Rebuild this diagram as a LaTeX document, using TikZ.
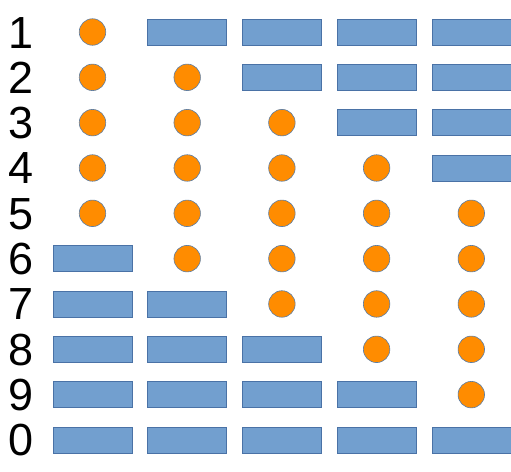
\documentclass[tikz,border=0pt]{standalone}
\usepackage{fontspec}
\setmainfont{Liberation Sans}
\definecolor{barblue}{HTML}{729FCF}
\definecolor{barline}{HTML}{4A72A6}
\definecolor{dotorange}{HTML}{FF8C00}
\definecolor{dotline}{HTML}{5A7DA6}

\begin{document}
\begin{tikzpicture}[
		x=1pt, y=-1pt,
		digit/.style={font=\fontsize{45}{45}\selectfont, inner sep=0pt, anchor=base},
		dot/.style={circle, draw=dotline, fill=dotorange, line width=0.6pt, minimum size=26.5pt, inner sep=0pt},
		bar/.style={rectangle, draw=barline, fill=barblue, line width=0.6pt, minimum width=79pt, minimum height=26pt, inner sep=0pt}
	]
		\useasboundingbox (0,0) rectangle (511,471);

		% rows 1..9 and 0, five slots each
		\foreach \r [evaluate=\r as \lab using {int(mod(\r,10))}] in {1,...,10} {
			\node[digit] (row-\r) at (21.5, {32+(\r-1)*45.33+16}) {\lab};
			\foreach \c in {1,...,5} {
				\pgfmathtruncatemacro\isdot{and(\c<=\r, \c>\r-5)}
				\ifnum\isdot=1
					\node[dot] (s-\r-\c) at ({92.5+(\c-1)*94.7}, {32+(\r-1)*45.33}) {};
				\else
					\node[bar] (s-\r-\c) at ({92.5+(\c-1)*94.7}, {32+(\r-1)*45.33}) {};
				\fi
			}
		}
	\end{tikzpicture}
\end{document}
